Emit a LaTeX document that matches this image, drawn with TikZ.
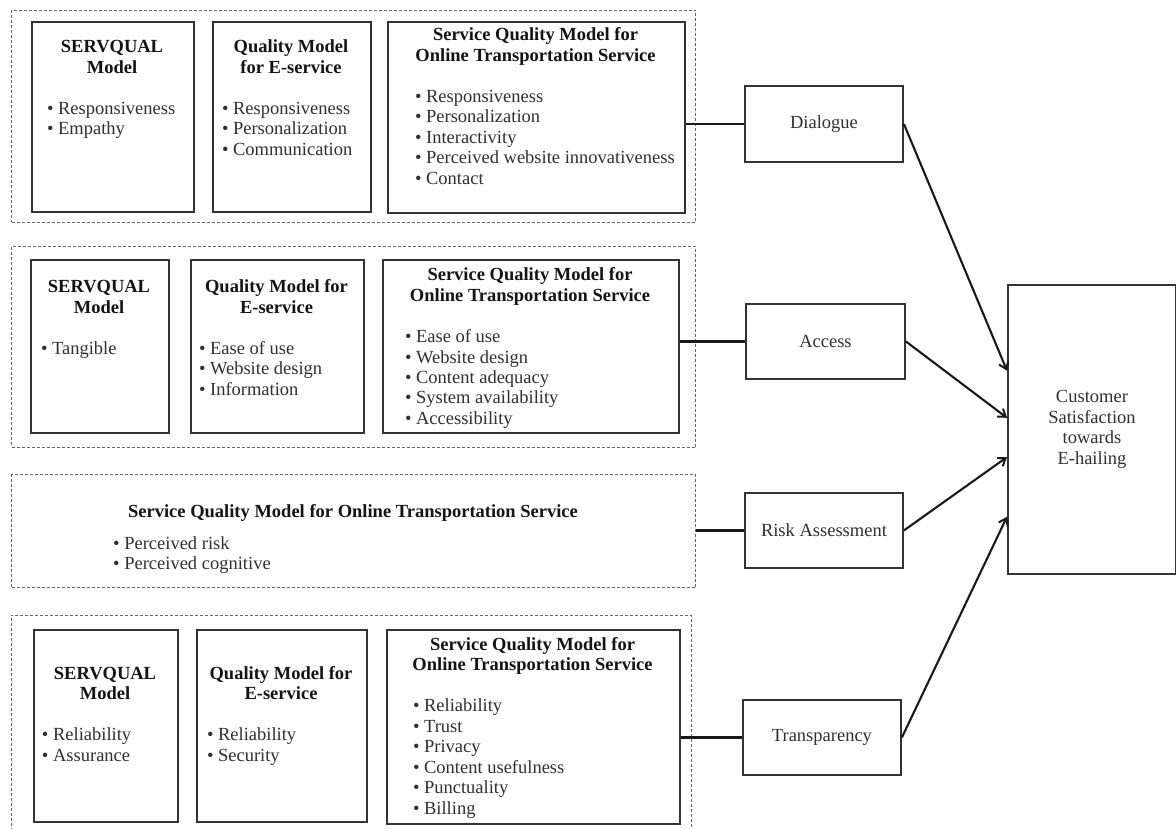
\documentclass[tikz,border=0pt]{standalone}
\usepackage{fontspec}
\setmainfont{Liberation Serif}
\usetikzlibrary{calc,arrows.meta}
\definecolor{txtc}{HTML}{303030}
\definecolor{titc}{HTML}{141414}
\definecolor{boxc}{HTML}{333333}
\definecolor{dashc}{HTML}{666666}
\newcommand\bl[1]{\mbox{\textbullet\ #1}}
% width, bullet indent, title lines, bullet lines
\newcommand\modeltext[4]{\parbox[t]{#1pt}{\centering{\leavevmode\bfseries\color{titc}#3\par}\vspace{20.5pt}\raggedright\leftskip=#2pt\relax\leavevmode #4\par}}
\begin{document}
\begin{tikzpicture}[x=1pt,y=-1pt,
  every node/.style={font=\fontsize{18.5}{20.5}\selectfont, text=txtc},
  ibox/.style={draw=boxc, line width=1.9pt, inner sep=0pt, anchor=north west},
  rbox/.style={draw=boxc, line width=1.9pt, inner sep=0pt, anchor=north west, align=center},
  grp/.style={draw=dashc, line width=1pt, dash pattern=on 3pt off 2pt},
  tb/.style={inner sep=0pt, anchor=base},
  conn/.style={draw=black!90, line width=2.1pt},
  arr/.style={conn, -{Straight Barb[length=7pt,width=10pt,line width=2pt]}}]
\fill[white] (0,0) rectangle (1176,829);
\useasboundingbox (0,0) rectangle (1176,829);

% ---------- group frames ----------
\node[grp, anchor=north west, inner sep=0pt, minimum width=684pt, minimum height=212pt] (g1) at (11,10) {};
\node[grp, anchor=north west, inner sep=0pt, minimum width=684pt, minimum height=201pt] (g2) at (11,246) {};
\node[grp, anchor=north west, inner sep=0pt, minimum width=684pt, minimum height=113pt] (g3) at (11,474) {};
\draw[grp] (11,831) -- (11,615) -- (691,615) -- (691,831);

% ---------- group 1 ----------
\node[ibox, minimum width=162pt, minimum height=190pt] (s1) at (31,21) {};
\node[tb] (s1t) at (112,53) {\modeltext{162}{16}{SERVQUAL\\Model}{\bl{Responsiveness}\\\bl{Empathy}}};
\node[ibox, minimum width=158pt, minimum height=190pt] (q1) at (212,21) {};
\node[tb] (q1t) at (291,53) {\modeltext{158}{10}{Quality Model\\for E-service}{\bl{Responsiveness}\\\bl{Personalization}\\\bl{Communication}}};
\node[ibox, minimum width=297pt, minimum height=191pt] (o1) at (387,21) {};
\node[tb] (o1t) at (535.5,41) {\modeltext{297}{28}{Service Quality Model for\\Online Transportation Service}{\bl{Responsiveness}\\\bl{Personalization}\\\bl{Interactivity}\\\bl{Perceived website innovativeness}\\\bl{Contact}}};

% ---------- group 2 ----------
\node[ibox, minimum width=138pt, minimum height=173pt] (s2) at (30,259) {};
\node[tb] (s2t) at (99,293) {\modeltext{138}{11}{SERVQUAL\\Model}{\bl{Tangible}}};
\node[ibox, minimum width=173pt, minimum height=173pt] (q2) at (190,259) {};
\node[tb] (q2t) at (276.5,293) {\modeltext{173}{9}{Quality Model for\\E-service}{\bl{Ease of use}\\\bl{Website design}\\\bl{Information}}};
\node[ibox, minimum width=296pt, minimum height=173pt] (o2) at (382,259) {};
\node[tb] (o2t) at (530,281) {\modeltext{296}{23}{Service Quality Model for\\Online Transportation Service}{\bl{Ease of use}\\\bl{Website design}\\\bl{Content adequacy}\\\bl{System availability}\\\bl{Accessibility}}};

% ---------- group 3 ----------
\node[tb, font=\fontsize{18.5}{20.5}\selectfont\bfseries, text=titc] (g3t) at (353,517) {Service Quality Model for Online Transportation Service};
\node[tb, anchor=base west] (g3b) at (113,549) {\parbox[t]{300pt}{\raggedright\leavevmode\bl{Perceived risk}\\\bl{Perceived cognitive}}};

% ---------- group 4 ----------
\node[ibox, minimum width=144pt, minimum height=192pt] (s4) at (33,629) {};
\node[tb] (s4t) at (105,679) {\modeltext{144}{9}{SERVQUAL\\Model}{\bl{Reliability}\\\bl{Assurance}}};
\node[ibox, minimum width=170pt, minimum height=192pt] (q4) at (196,629) {};
\node[tb] (q4t) at (281,679) {\modeltext{170}{11}{Quality Model for\\E-service}{\bl{Reliability}\\\bl{Security}}};
\node[ibox, minimum width=293pt, minimum height=194pt] (o4) at (386,629) {};
\node[tb] (o4t) at (532.5,650) {\modeltext{293}{27}{Service Quality Model for\\Online Transportation Service}{\bl{Reliability}\\\bl{Trust}\\\bl{Privacy}\\\bl{Content usefulness}\\\bl{Punctuality}\\\bl{Billing}}};

% ---------- right side ----------
\node[rbox, minimum width=158pt, minimum height=76pt] (dlg) at (744,85) {Dialogue};
\node[rbox, minimum width=159pt, minimum height=75pt] (acc) at (745,303) {Access};
\node[rbox, minimum width=158pt, minimum height=75pt] (risk) at (744,492) {Risk Assessment};
\node[rbox, minimum width=158pt, minimum height=75pt] (trn) at (742,699) {Transparency};
\node[rbox, minimum width=168pt, minimum height=289pt] (cust) at (1007,284) {Customer\\Satisfaction\\towards\\E-hailing};

% ---------- connectors ----------
\draw[conn] (dlg.west) -- (dlg.west -| o1.east);
\draw[conn] (acc.west) -- (acc.west -| o2.east);
\draw[conn] (risk.west) -- (risk.west -| g3.east);
\draw[conn] (trn.west) -- (trn.west -| o4.east);

\draw[arr] (dlg.east) -- ($(cust.north west)!0.298!(cust.south west)$);
\draw[arr] (acc.east) -- ($(cust.north west)!0.46!(cust.south west)$);
\draw[arr] (risk.east) -- ($(cust.north west)!0.595!(cust.south west)$);
\draw[arr] (trn.east) -- ($(cust.north west)!0.80!(cust.south west)$);
\end{tikzpicture}
\end{document}
